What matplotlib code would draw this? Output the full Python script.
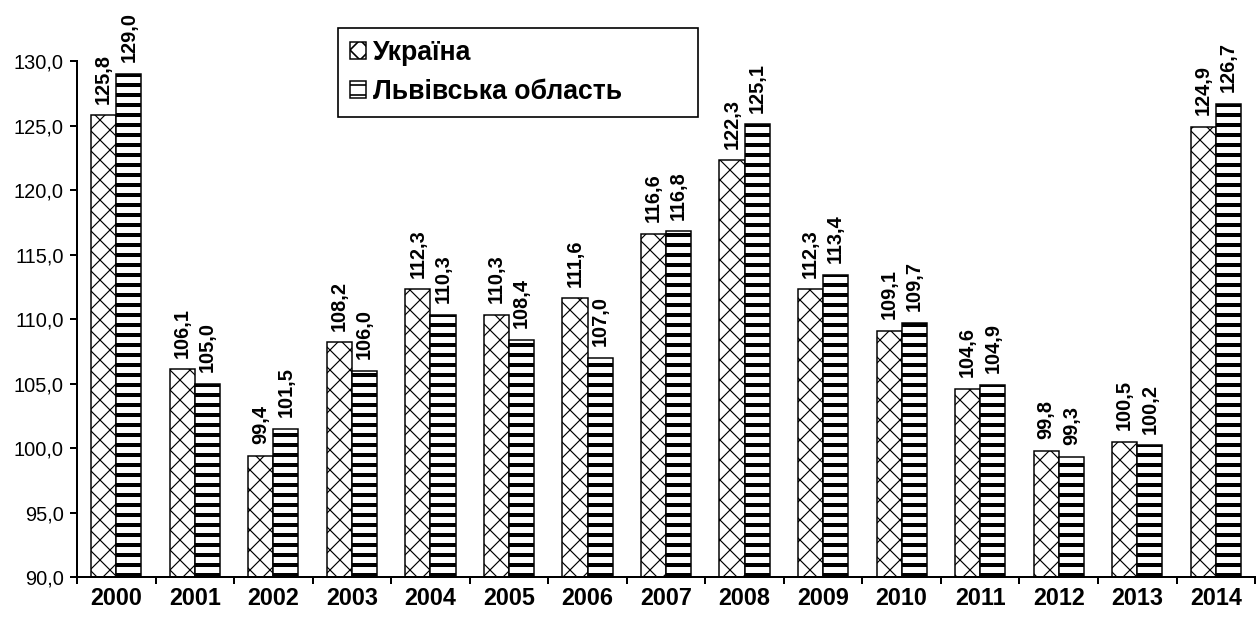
import numpy as np
import matplotlib
matplotlib.use('Agg')
import matplotlib.pyplot as plt
from matplotlib.ticker import FuncFormatter

plt.rcParams['font.family'] = ['Liberation Sans', 'DejaVu Sans']

years = ['2000', '2001', '2002', '2003', '2004', '2005', '2006', '2007',
         '2008', '2009', '2010', '2011', '2012', '2013', '2014']
ukraine = [125.8, 106.1, 99.4, 108.2, 112.3, 110.3, 111.6, 116.6,
           122.3, 112.3, 109.1, 104.6, 99.8, 100.5, 124.9]
lviv = [129.0, 105.0, 101.5, 106.0, 110.3, 108.4, 107.0, 116.8,
        125.1, 113.4, 109.7, 104.9, 99.3, 100.2, 126.7]
labels = ['Україна', 'Львівська область']

# dpi 120 so the hatch spacing comes out close to the original
DPI = 120
fig = plt.figure(figsize=(1256 / DPI, 624 / DPI), dpi=DPI)
ax = fig.add_axes([0.0613, 0.0753, 0.938, 0.8269])

x = np.arange(len(years))
w = 0.32

with plt.rc_context({'hatch.linewidth': 0.7}):
    b1 = ax.bar(x - w / 2, ukraine, w, color='white', edgecolor='black',
                hatch='xx', linewidth=0.9, label=labels[0])
with plt.rc_context({'hatch.linewidth': 2.4}):
    b2 = ax.bar(x + w / 2, lviv, w, color='white', edgecolor='black',
                hatch='--', linewidth=0.9, label=labels[1])

fmt = lambda v: f'{v:.1f}'.replace('.', ',')

for bars in (b1, b2):
    for r in bars:
        h = r.get_height()
        ax.annotate(fmt(h), (r.get_x() + r.get_width() / 2, h),
                    xytext=(0, 7), textcoords='offset points',
                    rotation=90, ha='center', va='bottom', fontsize=12,
                    fontweight='bold', annotation_clip=False)

ax.set_xlim(-0.5, len(years) - 0.5)
ax.set_ylim(90, 130)
ax.set_yticks(np.arange(90, 131, 5))
ax.yaxis.set_major_formatter(FuncFormatter(lambda v, p: fmt(v)))
ax.set_xticks(x)
ax.set_xticklabels(years, fontsize=14, fontweight='bold')
ax.set_xticks(np.arange(-0.5, len(years), 1), minor=True)
ax.tick_params(axis='x', which='major', length=0, pad=6)
ax.tick_params(axis='x', which='minor', length=4, width=1.2, direction='out')
ax.tick_params(axis='y', length=4, width=1.2, direction='out',
               labelsize=12, pad=4)

for s in ('top', 'right'):
    ax.spines[s].set_visible(False)
for s in ('left', 'bottom'):
    ax.spines[s].set_linewidth(1.2)

leg = fig.legend(handles=[b1, b2], loc='upper left',
                 bbox_to_anchor=(338 / 1256, 1 - 28 / 624, 360 / 1256, 0),
                 mode='expand', fancybox=False,
                 edgecolor='black', framealpha=1,
                 prop={'weight': 'bold', 'size': 16},
                 handlelength=0.6, handleheight=0.6, handletextpad=0.25,
                 borderpad=0.45, labelspacing=0.5, borderaxespad=0)
leg.get_frame().set_linewidth(1.0)

fig.savefig('out.png', dpi=DPI)
